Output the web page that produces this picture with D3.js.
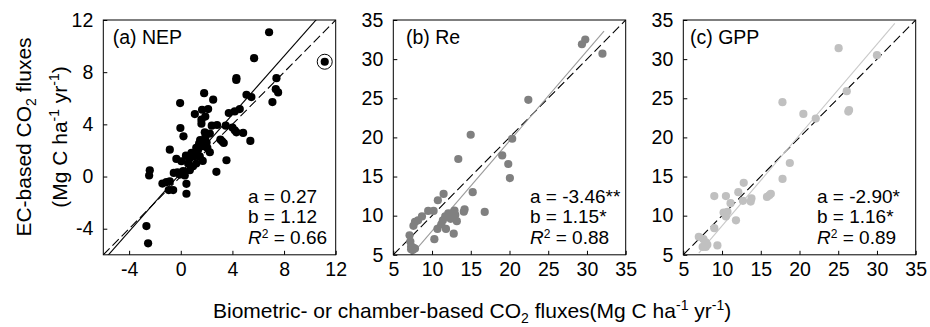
<!DOCTYPE html>
<html lang="en">
<head>
<meta charset="UTF-8" />
<title>EC vs biometric CO2 fluxes</title>
<script src="https://cdn.jsdelivr.net/npm/d3@7"></script>
<style>
body{margin:0;background:#fff}
svg{font-family:"Liberation Sans",Arial,Helvetica,sans-serif}
.tick line{stroke:#000}
.tick text{fill:#000;font-size:19.5px}
</style>
</head>
<body>
<svg id="chart" width="930" height="327"></svg>
<script>
/* ===== data ===== */
const nepPts=[[6.84,11.06],[5.68,9.07],[4.31,7.54],[4.30,7.40],[7.41,7.54],[7.36,6.70],[7.54,6.45],[7.10,5.71],
  [5.09,6.27],[5.47,6.09],[1.81,6.39],[-0.05,5.63],[2.51,5.89],[1.65,5.12],[2.12,5.17],[1.09,4.79],[4.57,5.17],
  [4.18,4.99],[3.72,4.87],[1.60,4.36],[1.60,4.05],[2.81,3.95],[3.48,3.90],[4.0,3.75],[4.18,3.54],[4.31,3.39],
  [4.83,3.34],[5.39,2.73],[-0.03,3.72],[0.21,3.08],[1.86,3.39],[2.25,3.29],[3.07,2.83],[3.33,2.57],[3.2,2.7],
  [1.42,2.52],[1.73,2.32],[2.06,2.19],[1.34,2.06],[2.25,1.86],[-0.85,2.06],[3.54,1.25],[0.83,1.81],[1.09,1.55],
  [1.47,1.55],[0.65,1.35],[-0.34,1.35],[0.05,1.17],[0.57,0.99],[0.95,0.79],[0.70,0.48],[0.18,0.41],[-0.26,0.33],
  [-0.54,0.28],[-0.08,0.15],[0.31,0.08],[2.76,0.36],[-2.40,0.48],[-2.45,0.08],[-1.42,-0.54],[-1.11,-0.43],
  [-0.85,-0.36],[-0.93,-1.04],[-0.59,-1.04],[0.44,-0.56],[0.44,-1.32],[-2.66,-3.80],[-2.53,-5.12],
  [1.9,3.0],[1.5,2.8],[2.0,2.6],[1.2,2.2],[1.7,1.2],[1.2,1.0],[0.4,1.6],[2.4,3.9],[1.9,4.6],[1.2,1.9],[11.15,8.8]];
const nepCircled=[11.15,8.8];
const rePts=[[29.35,31.9],[29.78,32.5],[32.0,30.7],[22.43,24.8],[14.99,20.34],[20.35,19.83],[19.06,17.7],
  [19.84,16.6],[20.05,14.8],[13.39,17.24],[15.25,13.0],[11.49,12.78],[10.75,11.97],[16.8,10.48],[14.1,10.5],
  [14.2,10.8],[12.9,10.65],[13.0,10.1],[13.2,9.3],[12.1,10.3],[11.7,9.9],[11.4,9.4],[11.2,8.9],[10.7,8.3],
  [11.8,8.3],[10.3,7.0],[12.8,7.7],[10.2,10.6],[9.5,10.6],[8.7,9.9],[8.2,9.4],[7.8,9.2],[7.6,8.7],[7.1,7.5],
  [7.2,6.7],[7.3,6.1],[7.6,5.9],[7.5,5.6],[7.8,5.8],[7.3,5.7],[12.4,9.6],[12.6,9.9]];
const gppPts=[[25.05,31.4],[30.0,30.5],[26.1,25.9],[26.4,23.5],[26.3,23.3],[17.8,24.5],[20.5,23.0],[22.1,22.4],
  [18.75,16.73],[17.81,14.69],[15.8,12.4],[16.1,12.6],[16.3,12.8],[12.8,14.2],[12.1,13.0],[12.7,11.9],
  [13.8,12.2],[13.7,11.8],[9.0,12.5],[10.5,12.5],[11.1,11.6],[10.2,10.4],[10.7,10.5],[10.5,9.9],[11.8,9.4],
  [9.0,8.4],[7.0,7.3],[7.6,7.0],[7.9,6.6],[7.5,6.0],[7.9,6.0],[8.1,6.3],[9.4,6.2]];

const panelTitles=['(a) NEP','(b) Re','(c) GPP'];
const intercepts=[0.27,-3.46,-2.90];
const slopes=[1.12,1.15,1.16];
const aLabels=['a = 0.27','a = -3.46**','a = -2.90*'];
const bLabels=['b = 1.12','b = 1.15*','b = 1.16*'];
const r2Labels=['0.66','0.88','0.89'];
const domains=[[-6,12],[5,35],[5,35]];
const ticksA=[-4,0,4,8,12];
const ticksBC=[5,10,15,20,25,30,35];
const fitRanges=[[-6,12],[7.2,32.2],[7.0,32.3]];

/* ===== layout ===== */
const svg=d3.select('#chart');
const padTop=20,padBottom=254.8,pw=232.4;
const lefts=[103.3,393.3,683.3];
const titleX=[112.7,406,690];
const ptColor=['#000','#808080','#c0c0c0'];
const fitColor=['#000','#9a9a9a','#c8c8c8'];
const allPts=[nepPts,rePts,gppPts];
const annX=[248,530,817];

lefts.forEach((L,i)=>{
  const h=padBottom-padTop;
  const x=d3.scaleLinear().domain(domains[i]).range([0,pw]);
  const y=d3.scaleLinear().domain(domains[i]).range([h,0]);
  const g=svg.append('g').attr('transform',`translate(${L},${padTop})`);
  const ticks=i===0?ticksA:ticksBC;

  g.append('clipPath').attr('id','clip'+i).append('rect').attr('width',pw).attr('height',h);

  const xa=g.append('g').attr('transform',`translate(0,${h})`)
    .call(d3.axisBottom(x).tickValues(ticks).tickFormat(d=>String(d)).tickSizeInner(-4).tickSizeOuter(0).tickPadding(7));
  const ya=g.append('g')
    .call(d3.axisLeft(y).tickValues(ticks).tickFormat(d=>String(d)).tickSizeInner(-4).tickSizeOuter(0).tickPadding(10));
  [xa,ya].forEach(a=>{a.select('.domain').remove();a.attr('font-family',null).attr('font-size',null)});

  const plot=g.append('g').attr('clip-path',`url(#clip${i})`);
  // 1:1 line
  plot.append('line').attr('x1',x(domains[i][0])).attr('y1',y(domains[i][0]))
    .attr('x2',x(domains[i][1])).attr('y2',y(domains[i][1]))
    .attr('stroke','#000').attr('stroke-width',1.1).attr('stroke-dasharray','9,4');
  // fitted line
  const f=v=>intercepts[i]+slopes[i]*v;
  plot.append('line').attr('x1',x(fitRanges[i][0])).attr('y1',y(f(fitRanges[i][0])))
    .attr('x2',x(fitRanges[i][1])).attr('y2',y(f(fitRanges[i][1])))
    .attr('stroke',fitColor[i]).attr('stroke-width',1.1);

  plot.selectAll('circle.pt').data(allPts[i]).join('circle').attr('class','pt')
    .attr('cx',d=>x(d[0])).attr('cy',d=>y(d[1])).attr('r',4.1).attr('fill',ptColor[i]);

  if(i===0){
    g.append('circle').attr('cx',x(nepCircled[0])).attr('cy',y(nepCircled[1])).attr('r',7.5)
      .attr('fill','none').attr('stroke','#000').attr('stroke-width',1);
  }

  g.append('rect').attr('width',pw).attr('height',h).attr('fill','none').attr('stroke','#000').attr('stroke-width',1);

  g.append('text').attr('x',titleX[i]-L).attr('y',43.5-padTop)
    .attr('font-size',19.5).text(panelTitles[i]);

  const ax=annX[i]-L;
  g.append('text').attr('x',ax).attr('y',203-padTop).attr('font-size',19).text(aLabels[i]);
  g.append('text').attr('x',ax).attr('y',223-padTop).attr('font-size',19).text(bLabels[i]);
  const r=g.append('text').attr('x',ax).attr('y',243.5-padTop).attr('font-size',19);
  r.append('tspan').attr('font-style','italic').text('R');
  r.append('tspan').attr('font-size',12).attr('dy',-6).text('2');
  r.append('tspan').attr('dy',6).text(' = '+r2Labels[i]);
});

/* ===== axis titles ===== */
const yt1=svg.append('text').attr('transform','translate(31,137) rotate(-90)')
  .attr('text-anchor','middle').attr('font-size',21);
yt1.append('tspan').text('EC-based CO');
yt1.append('tspan').attr('font-size',14).attr('dy',5).text('2');
yt1.append('tspan').attr('dy',-5).text(' fluxes');
const yt2=svg.append('text').attr('transform','translate(67,137) rotate(-90)')
  .attr('text-anchor','middle').attr('font-size',21);
yt2.append('tspan').text('(Mg C ha');
yt2.append('tspan').attr('font-size',14).attr('dy',-8).text('-1');
yt2.append('tspan').attr('dy',8).text(' yr');
yt2.append('tspan').attr('font-size',14).attr('dy',-8).text('-1');
yt2.append('tspan').attr('dy',8).text(')');

const xt=svg.append('text').attr('x',213).attr('y',318).attr('font-size',21);
xt.append('tspan').text('Biometric- or chamber-based CO');
xt.append('tspan').attr('font-size',14).attr('dy',5).text('2');
xt.append('tspan').attr('dy',-5).text(' fluxes(Mg C ha');
xt.append('tspan').attr('font-size',14).attr('dy',-8).text('-1');
xt.append('tspan').attr('dy',8).text(' yr');
xt.append('tspan').attr('font-size',14).attr('dy',-8).text('-1');
xt.append('tspan').attr('dy',8).text(')');
</script>
</body>
</html>
